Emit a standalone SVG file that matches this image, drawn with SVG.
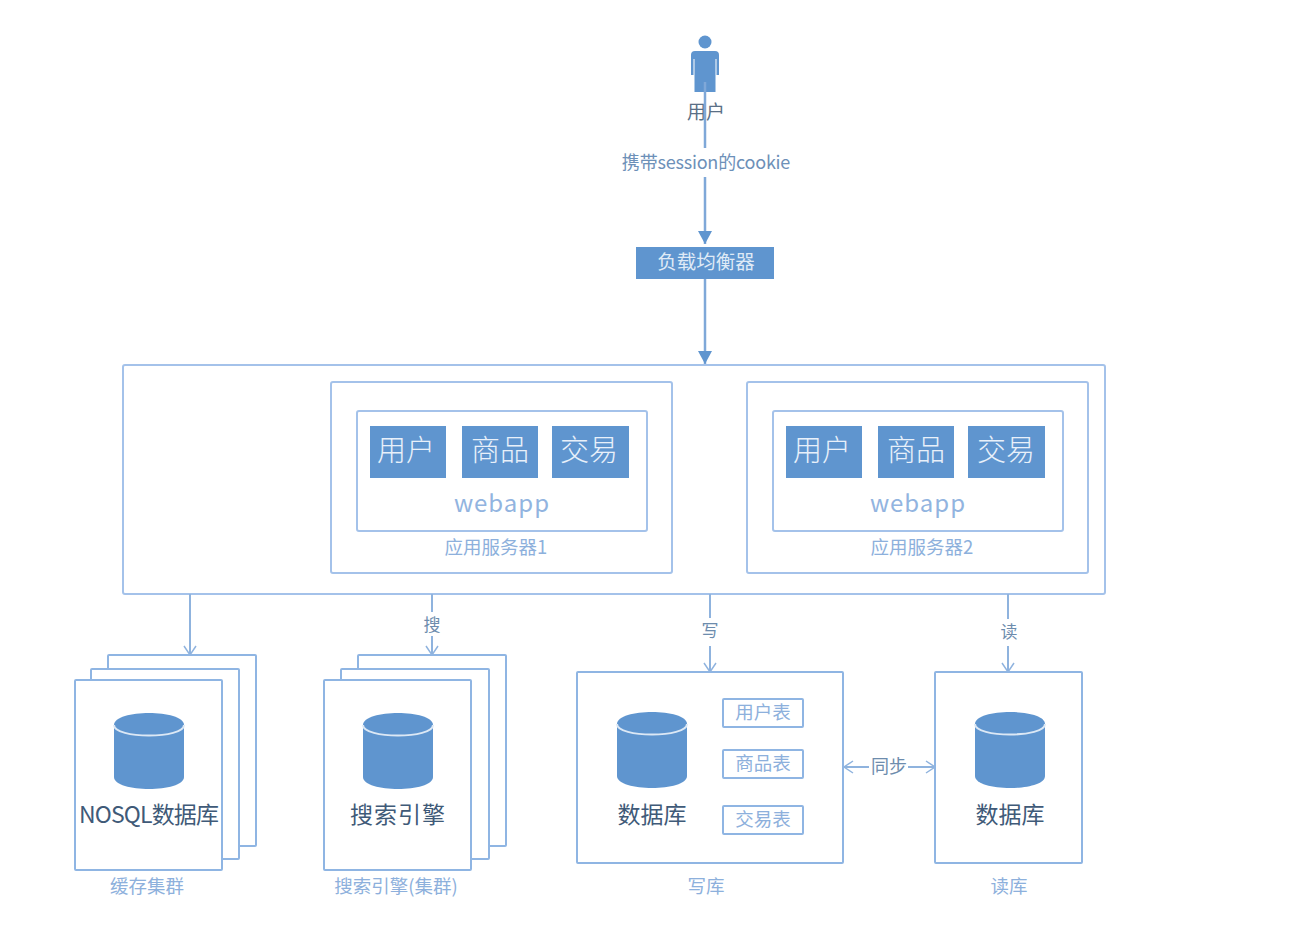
<svg xmlns="http://www.w3.org/2000/svg" width="1290" height="940" viewBox="0 0 1290 940">
<style>
text{font-family:"Noto Sans CJK SC","Noto Sans",sans-serif;text-anchor:middle}
.box{fill:#fff;stroke:#a4c2ea;stroke-width:2}
.stack{fill:#fff;stroke:#8fb5e3;stroke-width:2}
.solid{fill:#5f95cf}
.w{fill:#e8f0fa;font-size:29px;font-weight:300}
.lb{fill:#8db0dc;font-size:18.500px}
.dk{fill:#3f5a78;font-size:23px}
.ed{fill:#6d8cad;font-size:17px}
.tb{fill:#8db0dc;font-size:18.500px}
.c{fill:none;stroke:#8fb3de;stroke-width:2}
.big{fill:none;stroke:#7fa8d8;stroke-width:2.5}
.cyl{fill:#5f95cf}
.cylt{fill:none;stroke:#dce8f5;stroke-width:2}
</style>
<defs>
<marker id="tri" markerUnits="userSpaceOnUse" markerWidth="14" markerHeight="14" refX="13" refY="7" orient="auto"><path d="M0 0L13 7L0 14Z" fill="#5f95cf"/></marker>
<marker id="open" markerUnits="userSpaceOnUse" markerWidth="12" markerHeight="14" refX="10" refY="7" orient="auto-start-reverse"><path d="M1 1L10 7L1 13" fill="none" stroke="#8fb3de" stroke-width="1.5"/></marker>
<g id="cyl"><path class="cyl" d="M-35 -26C-35 -42 35 -42 35 -26V26C35 42 -35 42 -35 26Z"/><path class="cylt" d="M-35 -26C-35 -12 35 -12 35 -26"/></g>
</defs>
<rect width="1290" height="940" fill="#fff"/>
<g id="main-container"><rect class="box" x="123" y="365" width="982" height="229" rx="2"/></g>
<g id="user">
<circle class="solid" cx="705" cy="42" r="6.500"/>
<path class="solid" d="M695 51H715Q719 51 719 55V75H716.500V59H715.500V92H694.500V59H693.500V75H691V55Q691 51 695 51Z"/>
<text x="706" y="119" fill="#5a6f86" font-size="19">用户</text>
<text x="706" y="169" fill="#6d90b8" font-size="18" letter-spacing="-.2">携带session的cookie</text>
</g>
<g id="connectors">
<path class="big" d="M705 82V148M705 177V244" marker-end="url(#tri)"/>
<path class="big" d="M705 278V364" marker-end="url(#tri)"/>
<path class="c" d="M190 594V655" marker-end="url(#open)"/>
<path class="c" d="M432 594V612M432 636V655" marker-end="url(#open)"/>
<path class="c" d="M710 594V618M710 646V672" marker-end="url(#open)"/>
<path class="c" d="M1008 594V619M1008 646V672" marker-end="url(#open)"/>
<path class="c" d="M869 767H844" marker-end="url(#open)"/>
<path class="c" d="M908 767H935" marker-end="url(#open)"/>
</g>
<g id="load-balancer"><rect class="solid" x="636" y="247" width="138" height="32"/><text x="706" y="269" fill="#dfeaf6" font-size="19.500">负载均衡器</text></g>
<g id="server1">
<rect class="box" x="331" y="382" width="341" height="191" rx="2"/>
<rect class="box" x="357" y="411" width="290" height="120" rx="2"/>
<rect class="solid" x="370" y="426" width="76" height="52"/><text class="w" x="406" y="461">用户</text>
<rect class="solid" x="462" y="426" width="76" height="52"/><text class="w" x="500" y="461">商品</text>
<rect class="solid" x="552" y="426" width="77" height="52"/><text class="w" x="589" y="461">交易</text>
<text x="502" y="512" fill="#92b4e0" font-size="24" letter-spacing="1">webapp</text>
<text class="lb" x="496" y="554">应用服务器1</text>
</g>
<g id="server2">
<rect class="box" x="747" y="382" width="341" height="191" rx="2"/>
<rect class="box" x="773" y="411" width="290" height="120" rx="2"/>
<rect class="solid" x="786" y="426" width="76" height="52"/><text class="w" x="822" y="461">用户</text>
<rect class="solid" x="878" y="426" width="76" height="52"/><text class="w" x="916" y="461">商品</text>
<rect class="solid" x="968" y="426" width="77" height="52"/><text class="w" x="1006" y="461">交易</text>
<text x="918" y="512" fill="#92b4e0" font-size="24" letter-spacing="1">webapp</text>
<text class="lb" x="922" y="554">应用服务器2</text>
</g>
<g id="nosql-cluster">
<rect class="stack" x="108" y="655" width="148" height="191" rx="1"/>
<rect class="stack" x="91" y="669" width="148" height="190" rx="1"/>
<rect class="stack" x="75" y="680" width="147" height="190" rx="1"/>
<use href="#cyl" x="149" y="751"/>
<text class="dk" x="149" y="823" textLength="140" lengthAdjust="spacing">NOSQL数据库</text>
<text class="lb" x="147" y="893">缓存集群</text>
</g>
<g id="search-cluster">
<rect class="stack" x="358" y="655" width="148" height="191" rx="1"/>
<rect class="stack" x="341" y="669" width="148" height="190" rx="1"/>
<rect class="stack" x="324" y="680" width="147" height="190" rx="1"/>
<use href="#cyl" x="398" y="751"/>
<text class="dk" x="398" y="823" letter-spacing="1">搜索引擎</text>
<text class="lb" x="396" y="893">搜索引擎(集群)</text>
</g>
<g id="write-db">
<rect class="stack" x="577" y="672" width="266" height="191" rx="1"/>
<use href="#cyl" x="652" y="750"/>
<text class="dk" x="652" y="823">数据库</text>
<rect class="stack" x="723" y="699" width="80" height="28" rx="1"/><text class="tb" x="763" y="719">用户表</text>
<rect class="stack" x="723" y="750" width="80" height="28" rx="1"/><text class="tb" x="763" y="770">商品表</text>
<rect class="stack" x="723" y="806" width="80" height="28" rx="1"/><text class="tb" x="763" y="826">交易表</text>
<text class="lb" x="706" y="893">写库</text>
</g>
<g id="read-db">
<rect class="stack" x="935" y="672" width="147" height="191" rx="1"/>
<use href="#cyl" x="1010" y="750"/>
<text class="dk" x="1010" y="823">数据库</text>
<text class="lb" x="1009" y="893">读库</text>
</g>
<g id="edge-labels">
<text class="ed" x="432" y="631">搜</text>
<text class="ed" x="710" y="637">写</text>
<text class="ed" x="1009" y="638">读</text>
<text x="889" y="773" fill="#6d8cad" font-size="18">同步</text>
</g>
</svg>
